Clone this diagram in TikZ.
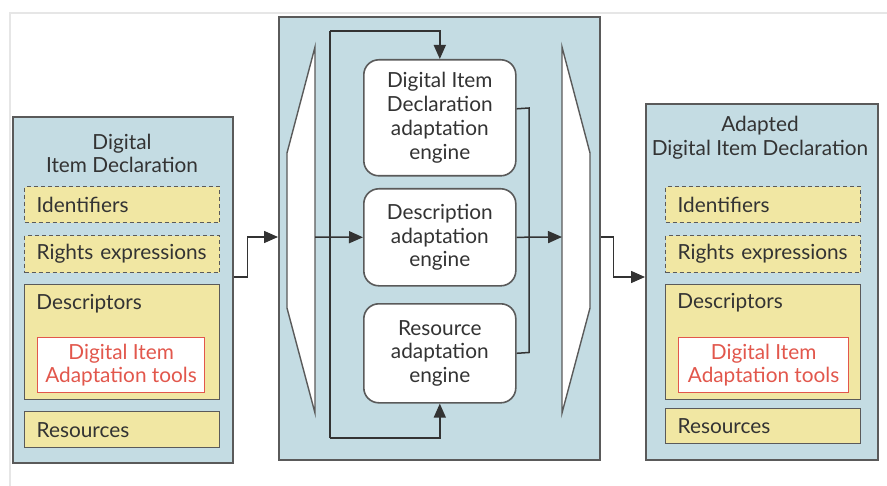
\documentclass[tikz,border=0pt]{standalone}
\usepackage{fontspec}
\setmainfont{Lato}
\usetikzlibrary{arrows.meta,calc}
\definecolor{panel}{HTML}{C4DCE3}
\definecolor{field}{HTML}{F1E7A3}
\definecolor{edge}{HTML}{5A5A5A}
\definecolor{ink}{HTML}{333333}
\definecolor{toolred}{HTML}{E2574C}
\definecolor{frame}{HTML}{E6E6E6}
\newcommand{\txt}{\fontsize{10.4}{11.9}\selectfont}
\tikzset{
  panelbox/.style={draw=edge, line width=0.8pt, fill=panel, anchor=north west, inner sep=0pt},
  fieldbox/.style={draw=edge, line width=0.7pt, fill=field, anchor=north west,
    minimum width=97.5pt, text width=85.5pt, inner xsep=6pt, inner ysep=0pt, align=left,
    font=\txt, text=ink},
  optbox/.style={fieldbox, dashed, dash pattern=on 2pt off 1.5pt},
  toolbox/.style={draw=toolred, line width=0.6pt, fill=white, anchor=north west, inner sep=0pt,
    align=center, font=\txt, text=toolred},
  engine/.style={draw=edge, line width=0.8pt, fill=white, rounded corners=7.5pt,
    anchor=north west, minimum width=76pt, inner sep=0pt, align=center,
    font=\txt, text=ink},
  heading/.style={align=center, font=\txt, text=ink, inner sep=0pt},
  label/.style={anchor=west, font=\txt, text=ink, inner sep=0pt},
  wire/.style={draw=ink, line width=0.75pt},
  arr/.style={wire, -{Triangle[length=7pt,width=6pt]}},
  lens/.style={draw=edge, line width=0.7pt, fill=white, line join=miter}
}
\begin{document}
\begin{tikzpicture}[x=0.5pt, y=-0.5pt]
\useasboundingbox (0,0) rectangle (887,486);
% thin page frame
\draw[frame, line width=0.8pt] (10,486) -- (10,13) -- (887,13);

% input declaration
\node[panelbox, minimum width=110pt, minimum height=173pt] (leftbox) at (12,116) {};
\node[heading] (lefttitle) at (122,153.5) {Digital\\Item Declaration};
\node[optbox, minimum height=18pt] (lid) at (24,186) {Identifiers};
\node[optbox, minimum height=18.5pt] (lrights) at (24,235) {Rights expressions};
\node[fieldbox, minimum height=57.5pt] (ldesc) at (24,284) {};
\node[label] (ldesclabel) at (36,304) {Descriptors};
\node[toolbox, minimum width=83.5pt, minimum height=27.5pt] (ltools) at (37,337) {Digital Item\\Adaptation tools};
\node[fieldbox, minimum height=18pt] (lres) at (24,411) {Resources};

% adaptation engine block
\node[panelbox, minimum width=160.5pt, minimum height=221.5pt] (centerbox) at (278,16) {};
\draw[lens] (315,47) -- (287,153) -- (287,308) -- (315,413) -- cycle;
\draw[lens] (562,47) -- (590,153) -- (590,308) -- (562,413) -- cycle;
\coordinate (lensL) at (315,237);
\coordinate (lensR) at (562,237);
\node[engine, minimum height=58pt] (did) at (363,59) {Digital Item\\Declaration\\adaptation\\engine};
\node[engine, minimum height=48.5pt] (desc) at (363,188) {Description\\adaptation\\engine};
\node[engine, minimum height=49.5pt] (res) at (363,303) {Resource\\adaptation\\engine};

% output declaration
\node[panelbox, minimum width=116pt, minimum height=178pt] (rightbox) at (645,103) {};
\node[heading] (righttitle) at (760,137.5) {Adapted\\Digital Item Declaration};
\node[optbox, minimum height=18pt] (rid) at (665,186) {Identifiers};
\node[optbox, minimum height=18.5pt] (rrights) at (665,235) {Rights expressions};
\node[fieldbox, minimum height=57.5pt] (rdesc) at (665,284) {};
\node[label] (rdesclabel) at (677,303) {Descriptors};
\node[toolbox, minimum width=85pt, minimum height=27.5pt] (rtools) at (678,337) {Digital Item\\Adaptation tools};
\node[fieldbox, minimum height=17.5pt] (rres) at (665,408) {Resources};

% connectors
\coordinate (midy) at (0,237);
\coordinate (outy) at (0,277);
\coordinate (loopT) at (330,31);
\coordinate (loopB) at (330,438);
\coordinate (didout) at ($(did.east)+(0,-9)$);
\coordinate (busT) at (529,108);
\coordinate (busB) at (529,352.5);

\draw[arr] (leftbox.east |- outy) -- ++(14,0) |- (centerbox.west |- midy);
\draw[wire] (loopB) -- (loopT);
\draw[arr] (loopT) -| (did.north);
\draw[arr] (loopB) -| (res.south);
\draw[arr] (lensL) -- (desc.west);
\draw[wire] (didout) -- (busT) -- (busB) -- (res.east);
\draw[arr] (desc.east) -- (lensR);
\draw[arr] (centerbox.east |- midy) -- ++(13,0) |- (rightbox.west |- outy);
\end{tikzpicture}
\end{document}
